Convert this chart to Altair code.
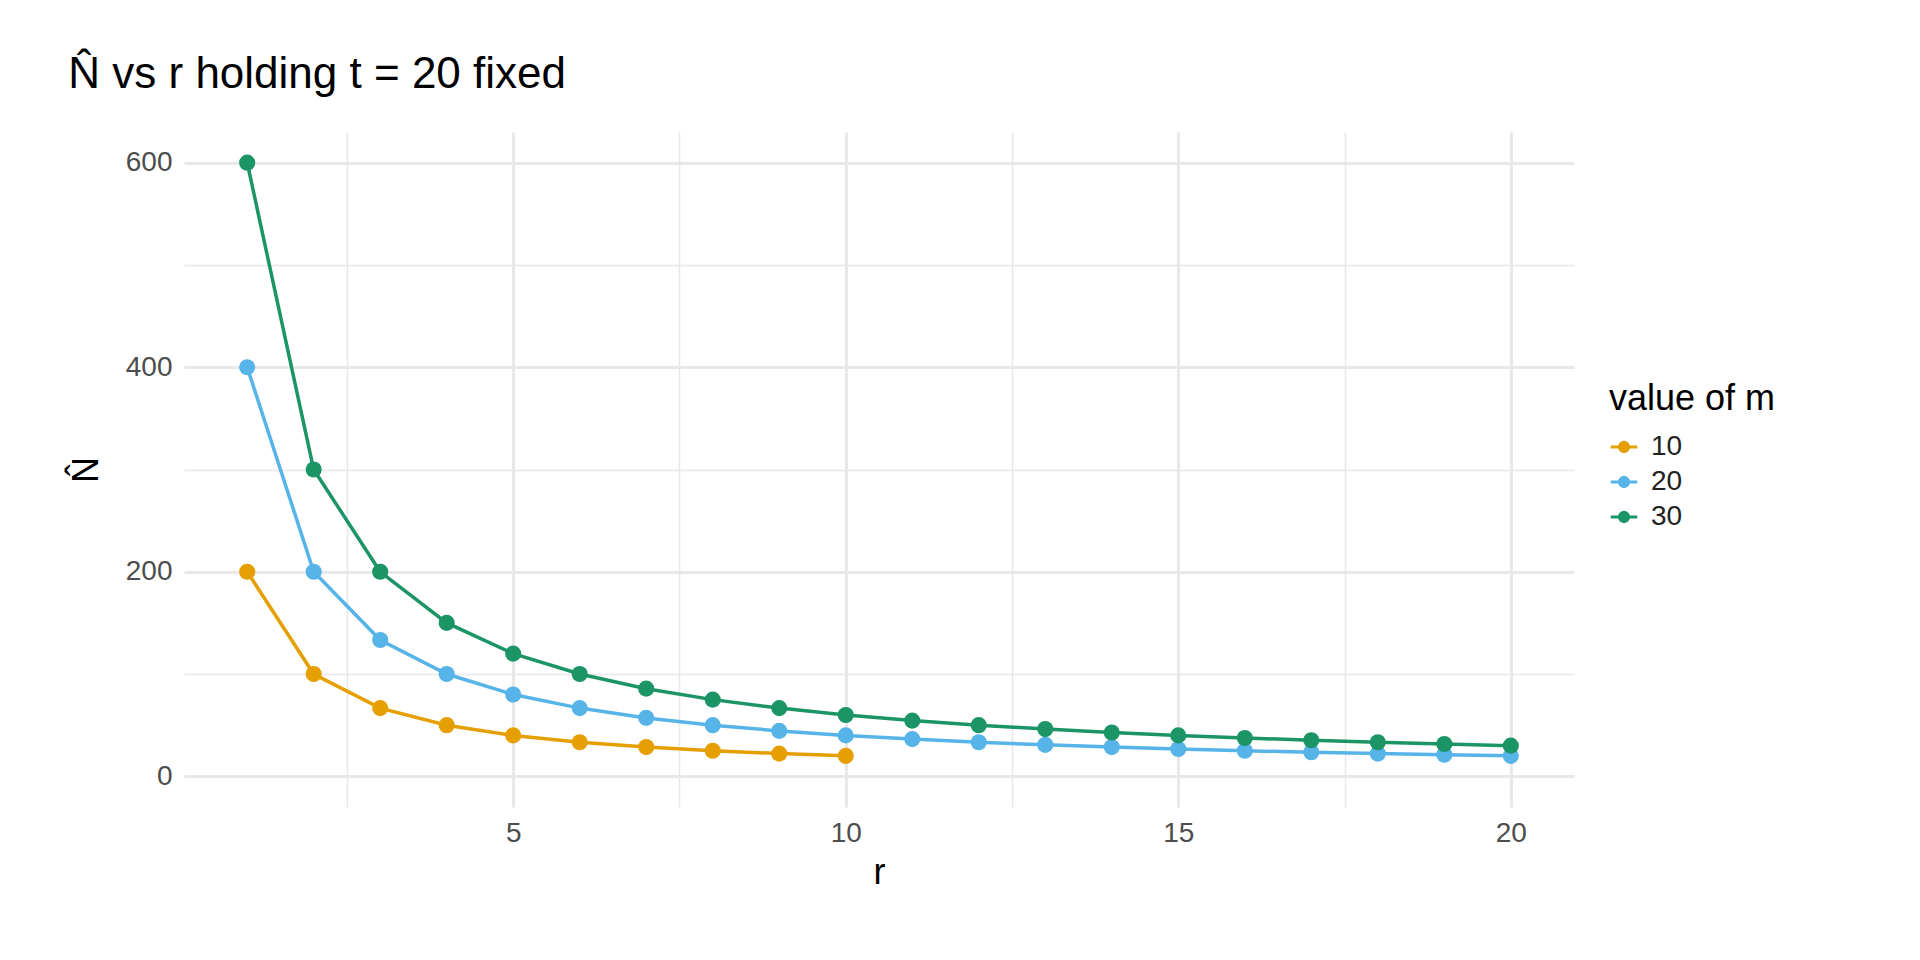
import altair as alt
import pandas as pd

r10 = list(range(1, 11))
n10 = [200, 100, 66.7, 50, 40, 33.3, 28.6, 25, 22.2, 20]
r20 = list(range(1, 21))
n20 = [400, 200, 133.3, 100, 80, 66.7, 57.1, 50, 44.4, 40, 36.4, 33.3, 30.8, 28.6, 26.7, 25, 23.5, 22.2, 21.1, 20]
r30 = list(range(1, 21))
n30 = [600, 300, 200, 150, 120, 100, 85.7, 75, 66.7, 60, 54.5, 50, 46.2, 42.9, 40, 37.5, 35.3, 33.3, 31.6, 30]

rows = []
for m, rs, ns in [("10", r10, n10), ("20", r20, n20), ("30", r30, n30)]:
    for r, n in zip(rs, ns):
        rows.append({"r": r, "N": n, "m": m})
df = pd.DataFrame(rows)

sym = "M-1,0 H1 M-0.35,0 A0.35,0.35 0 1,1 0.35,0 A0.35,0.35 0 1,1 -0.35,0 Z"
color = alt.Color("m:N", title="value of m",
                  scale=alt.Scale(domain=["10", "20", "30"], range=["#E69F00", "#56B4E9", "#1B9466"]),
                  legend=alt.Legend(symbolType=sym, symbolSize=700, symbolStrokeWidth=3,
                                    labelFontSize=28, titleFontSize=36,
                                    titleFontWeight="normal", titleColor="black", labelColor="#222",
                                    orient="none", legendX=1425, legendY=250, rowPadding=6,
                                    titlePadding=14, labelOffset=12))

gw = {"condition": {"test": "datum.value % 5 === 0", "value": 3}, "value": 1.5}
gwy = {"condition": {"test": "datum.value % 200 === 0", "value": 3}, "value": 1.5}

x = alt.X("r:Q", title="r", scale=alt.Scale(domain=[0.05, 20.95], nice=False, zero=False),
          axis=alt.Axis(values=[2.5, 5, 7.5, 10, 12.5, 15, 17.5, 20],
                        labelExpr="datum.value % 5 === 0 ? datum.label : ''",
                        gridWidth=gw, gridColor="#E8E8E8", domain=False, ticks=False,
                        labelFontSize=28, labelColor="#4D4D4D", titleFontSize=36,
                        titleFontWeight="normal", labelPadding=12, titlePadding=8))
y = alt.Y("N:Q", title="N̂", scale=alt.Scale(domain=[-30, 630], nice=False),
          axis=alt.Axis(values=[0, 100, 200, 300, 400, 500, 600],
                        labelExpr="datum.value % 200 === 0 ? datum.label : ''",
                        gridWidth=gwy, gridColor="#E8E8E8", domain=False, ticks=False,
                        labelFontSize=28, labelColor="#4D4D4D", titleFontSize=36,
                        titleFontWeight="normal", labelPadding=12, titlePadding=20))

base = alt.Chart(df).encode(x=x, y=y, color=color)
chart = (base.mark_line(strokeWidth=3.5) + base.mark_point(filled=True, size=260, opacity=1)).properties(
    width=1390, height=675,
    padding={"left": 60, "top": 45, "right": 10, "bottom": 10},
    title=alt.TitleParams("N̂ vs r holding t = 20 fixed", fontSize=44, fontWeight="normal",
                          anchor="start", offset=35)
).configure(font="Liberation Sans").configure_view(stroke=None)

chart.save("out.html", embed_options={"renderer": "svg", "actions": False})
